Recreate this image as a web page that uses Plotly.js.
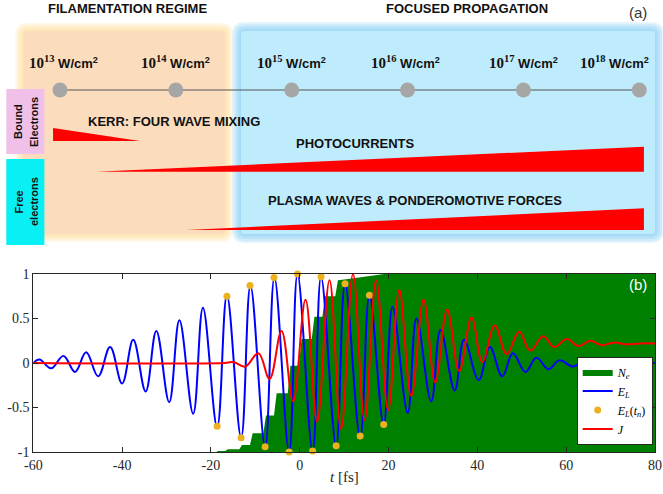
<!DOCTYPE html>
<html>
<head>
<meta charset="utf-8">
<script src="https://cdn.plot.ly/plotly-3.0.1.min.js"></script>
<style>html,body{margin:0;padding:0;background:#fff;}#chart{width:663px;height:494px;}</style>
</head>
<body>
<div id="chart"></div>
<script>
// ---------------- DATA: panel (b) ----------------
// Laser field E_L (extrema)
const tField = [-60, -58.6, -56.0, -53.2, -50.6, -48.1, -45.4, -42.7, -40.0, -37.5, -34.7, -32.3, -29.4, -27.1, -24.0, -21.8,
  -18.6, -16.4, -13.2, -11.1, -7.8, -5.7, -2.4, -0.5, 2.9, 4.8, 8.2, 10.2, 13.6, 15.7, 18.9, 20.9, 24.3, 26.3, 29.6, 31.7,
  34.9, 37.0, 40.3, 42.8, 45.6, 48.0, 50.8, 53.3, 56.0, 58.5, 61.5, 63.9, 66.6, 69.2, 72.0, 75.0, 80];
const field = [0.0, 0.04, -0.06, 0.08, -0.10, 0.12, -0.15, 0.18, -0.23, 0.26, -0.32, 0.36, -0.44, 0.48, -0.57, 0.62,
  -0.72, 0.76, -0.84, 0.87, -0.94, 0.96, -1.0, 1.0, -0.99, 0.97, -0.93, 0.89, -0.83, 0.76, -0.69, 0.63, -0.56, 0.50, -0.43, 0.37,
  -0.31, 0.26, -0.19, 0.18, -0.15, 0.11, -0.10, 0.06, -0.07, 0.03, -0.04, 0.015, -0.02, 0.01, -0.01, 0.0, 0.0];

// Ionization instants t_n and field values E_L(t_n)
const tIon = [-18.6, -16.4, -13.2, -11.2, -7.8, -5.8, -2.4, -0.5, 2.9, 4.8, 8.2, 10.2, 13.6, 15.7, 18.9];
const fieldIon = [-0.71, 0.75, -0.84, 0.87, -0.94, 0.96, -1.0, 1.0, -0.99, 0.97, -0.93, 0.89, -0.82, 0.76, -0.69];

// Current J
const tCurrent = [-60, -17.0, -14.9, -12.3, -9.3, -6.8, -4.1, -1.5, 1.3, 3.9, 6.7, 9.3, 12.0, 14.6, 17.2, 19.9, 22.4, 25.1,
  27.9, 30.5, 33.2, 35.9, 38.7, 41.1, 43.9, 46.6, 49.4, 51.9, 54.8, 57.3, 60.1, 62.8, 65.4, 68.0, 70.7, 73.7, 76.5, 80];
const current = [0, 0, 0.01, -0.04, 0.11, -0.18, 0.36, -0.43, 0.71, -0.66, 0.93, -0.74, 1.0, -0.64, 0.93, -0.53, 0.82, -0.37,
  0.71, -0.22, 0.60, -0.09, 0.51, 0.01, 0.42, 0.10, 0.35, 0.14, 0.30, 0.18, 0.27, 0.19, 0.25, 0.20, 0.23, 0.21, 0.22, 0.22];

// Electron density N_e (staircase, in axis units)
const tDensity = [-18.8, -18.4, -16.8, -16.2, -13.6, -13.0, -11.2, -10.6, -8.2, -7.6, -5.8, -5.2, -2.7, -2.1, -0.2, 0.4,
  2.7, 3.3, 5.1, 5.7, 8.0, 8.6, 10.5, 13.0, 16.0, 19.0, 80];
const density = [-1.0, -0.99, -0.99, -0.97, -0.97, -0.92, -0.92, -0.79, -0.79, -0.59, -0.59, -0.34, -0.34, -0.03, -0.03, 0.27,
  0.27, 0.52, 0.52, 0.75, 0.75, 0.93, 0.94, 0.96, 0.98, 1.0, 1.0];

const xTickVals = [-60, -40, -20, 0, 20, 40, 60, 80];
const xTickText = ['-60', '-40', '-20', '0', '20', '40', '60', '80'];
const yTickVals = [-1, -0.5, 0, 0.5, 1];
const yTickText = ['-1', '-0.5', '0', '0.5', '1'];

// ---------------- DATA: panel (a) ----------------
const intensityExp = [13, 14, 15, 16, 17, 18];           // log10 of intensity in W/cm^2
const effectNames = ['KERR: FOUR WAVE MIXING', 'PHOTOCURRENTS', 'PLASMA WAVES & PONDEROMOTIVE FORCES'];
const effectStart = [12.94, 13.31, 14.09];               // log10 I where effect starts
const effectEnd = [13.69, 18.04, 18.04];                 // log10 I where effect ends
const effectWeightStart = [13, 0, 0];                    // wedge thickness at start
const effectWeightEnd = [0, 25, 21.7];                   // wedge thickness at end
const regimeNames = ['FILAMENTATION REGIME', 'FOCUSED PROPAGATION'];
const electronKinds = [['Bound', 'Electrons'], ['Free', 'electrons']];

// ---------------- LAYOUT HELPERS ----------------
const W = 663, H = 494;
const X = v => v / W;
const Y = v => 1 - v / H;
function rrect(x0, y0, x1, y1, r) {
  const f = (a, b) => X(a).toFixed(5) + ',' + Y(b).toFixed(5);
  return 'M ' + f(x0 + r, y0) + ' L ' + f(x1 - r, y0) + ' Q ' + f(x1, y0) + ' ' + f(x1, y0 + r) +
    ' L ' + f(x1, y1 - r) + ' Q ' + f(x1, y1) + ' ' + f(x1 - r, y1) +
    ' L ' + f(x0 + r, y1) + ' Q ' + f(x0, y1) + ' ' + f(x0, y1 - r) +
    ' L ' + f(x0, y0 + r) + ' Q ' + f(x0, y0) + ' ' + f(x0 + r, y0) + ' Z';
}
function pathShape(p, color) {
  return {type: 'path', xref: 'paper', yref: 'paper', path: p, fillcolor: color, line: {width: 0}, layer: 'below'};
}
function glowBox(b, inner, glow, g) {
  const out = [];
  const steps = [1, 0.78, 0.56, 0.34, 0.14];
  steps.forEach(s => {
    const d = g * s;
    out.push(pathShape(rrect(b[0] - d, b[1] - d, b[2] + d, b[3] + d, 4 + d), glow));
  });
  out.push(pathShape(rrect(b[0], b[1], b[2], b[3], 3), inner));
  return out;
}

const shapes = []
  .concat(glowBox([23.3, 31, 225, 234], 'rgb(251,221,189)', 'rgba(255,222,150,0.22)', 8))
  .concat(glowBox([241, 31, 655, 234], 'rgb(191,236,252)', 'rgba(120,200,245,0.2)', 9))
  .concat([
    {type: 'rect', xref: 'paper', yref: 'paper', x0: X(6.3), x1: X(44.4), y0: Y(154), y1: Y(89), fillcolor: '#F0C0E9', line: {width: 0}, layer: 'below'},
    {type: 'rect', xref: 'paper', yref: 'paper', x0: X(6.3), x1: X(44.4), y0: Y(245), y1: Y(159), fillcolor: '#08F0F4', line: {width: 0}, layer: 'below'}
  ]);

// ---------------- TRACES ----------------
const traces = [];
// panel (a): wedges
const wedgeBase = [141, 171.7, 230];
effectNames.forEach((n, i) => {
  traces.push({
    x: [effectStart[i], effectEnd[i], effectEnd[i], effectStart[i], effectStart[i]],
    y: [wedgeBase[i], wedgeBase[i], wedgeBase[i] - effectWeightEnd[i], wedgeBase[i] - effectWeightStart[i], wedgeBase[i]],
    xaxis: 'x2', yaxis: 'y2', mode: 'lines', fill: 'toself', fillcolor: '#FF0000',
    line: {width: 0, color: '#FF0000'}, showlegend: false, hoverinfo: 'skip', cliponaxis: false
  });
});
// panel (a): intensity scale
traces.push({
  x: intensityExp, y: intensityExp.map(() => 90), xaxis: 'x2', yaxis: 'y2',
  mode: 'lines+markers', line: {color: '#555555', width: 1},
  marker: {size: 15, color: '#A6A6A6'}, showlegend: false, hoverinfo: 'skip', cliponaxis: false
});

// panel (b)
traces.push({x: [-60, 80], y: [-1, -1], mode: 'lines', line: {width: 0, color: 'rgba(0,0,0,0)'}, showlegend: false, hoverinfo: 'skip'});
traces.push({x: tDensity, y: density, mode: 'lines', fill: 'tonexty', fillcolor: '#008000',
  line: {width: 0, color: '#008000'}, name: '<i>N<sub>e</sub></i>'});
traces.push({x: tField, y: field, mode: 'lines', line: {color: '#0000FF', width: 2, shape: 'spline', smoothing: 1.1},
  name: '<i>E<sub>L</sub></i>'});
traces.push({x: tIon, y: fieldIon, mode: 'markers', marker: {color: '#EDB120', size: 7},
  name: '<i>E<sub>L</sub></i>(<i>t<sub>n</sub></i>)', cliponaxis: false});
traces.push({x: tCurrent, y: current, mode: 'lines', line: {color: '#FF0000', width: 2, shape: 'spline', smoothing: 1.1},
  name: '<i>J</i>'});

// ---------------- ANNOTATIONS ----------------
const sans = 'Liberation Sans, Arial, sans-serif';
const serif = 'Liberation Serif, Times New Roman, serif';
const ann = [];
const regimeX = [127, 467];
regimeNames.forEach((n, i) => ann.push({xref: 'paper', yref: 'paper', x: X(regimeX[i]), y: Y(8), text: '<b>' + n + '</b>',
  showarrow: false, font: {family: sans, size: 13, color: '#111'}, xanchor: 'center', yanchor: 'middle'}));
ann.push({xref: 'paper', yref: 'paper', x: X(638), y: Y(12), text: '(a)', showarrow: false,
  font: {family: sans, size: 15, color: '#333'}, xanchor: 'center', yanchor: 'middle'});
const labelShift = [3, 0, 0, -2, 0, -25];
intensityExp.forEach((e, i) => ann.push({xref: 'x2', yref: 'y2', x: e, y: 62, xshift: labelShift[i],
  text: '<b><span style="font-family:Liberation Serif;font-size:15px">10<sup>' + e + '</sup></span> W/cm<sup>2</sup></b>',
  showarrow: false, font: {family: sans, size: 13, color: '#111'}, xanchor: 'center', yanchor: 'middle'}));
const effectLabelPos = [[174, 121], [355.6, 143], [415, 200]];
effectNames.forEach((n, i) => ann.push({xref: 'paper', yref: 'paper', x: X(effectLabelPos[i][0]), y: Y(effectLabelPos[i][1]),
  text: '<b>' + n + '</b>', showarrow: false, font: {family: sans, size: 13, color: '#111'}, xanchor: 'center', yanchor: 'middle'}));
const kindPos = [[[18.5, 121.5], [34, 122]], [[18.5, 202], [34, 202]]];
electronKinds.forEach((k, i) => k.forEach((w, j) => ann.push({xref: 'paper', yref: 'paper',
  x: X(kindPos[i][j][0]), y: Y(kindPos[i][j][1]), text: '<b>' + w + '</b>', textangle: -90, showarrow: false,
  font: {family: sans, size: 11, color: '#111'}, xanchor: 'center', yanchor: 'middle'})));
ann.push({xref: 'paper', yref: 'paper', x: X(638), y: Y(284), text: '(b)', showarrow: false,
  font: {family: sans, size: 15, color: '#FFFFFF'}, xanchor: 'center', yanchor: 'middle'});
// x-axis title
ann.push({xref: 'paper', yref: 'paper', x: X(344), y: Y(477), text: '<i>t</i> [fs]', showarrow: false,
  font: {family: serif, size: 15, color: '#262626'}, xanchor: 'center', yanchor: 'middle'});

const axisCommon = {
  showline: true, linecolor: '#262626', linewidth: 1, mirror: 'allticks', ticks: 'inside', ticklen: 5,
  tickcolor: '#262626', tickwidth: 1, showgrid: false, zeroline: false,
  tickfont: {family: serif, size: 14, color: '#262626'}, fixedrange: true
};

const layout = {
  width: W, height: H, margin: {l: 0, r: 0, t: 0, b: 0}, paper_bgcolor: '#FFFFFF', plot_bgcolor: 'rgba(0,0,0,0)',
  showlegend: true,
  xaxis: Object.assign({}, axisCommon, {domain: [33.3 / W, 655 / W], anchor: 'y', range: [-60, 80],
    tickmode: 'array', tickvals: xTickVals, ticktext: xTickText}),
  yaxis: Object.assign({}, axisCommon, {domain: [1 - 452 / H, 1 - 274 / H], anchor: 'x', range: [-1, 1],
    tickmode: 'array', tickvals: yTickVals, ticktext: yTickText}),
  xaxis2: {domain: [0, 1], anchor: 'y2', range: [12.4821, 12.4821 + W / 115.86], visible: false, fixedrange: true},
  yaxis2: {domain: [1 - 245 / H, 1], anchor: 'x2', range: [245, 0], visible: false, fixedrange: true},
  legend: {x: 576.7 / W, y: 1 - 444.5 / H, xanchor: 'left', yanchor: 'bottom', bgcolor: '#FFFFFF', traceorder: 'normal',
    bordercolor: '#262626', borderwidth: 1, font: {family: serif, size: 12, color: '#000'}, itemwidth: 30, tracegroupgap: 0},
  shapes: shapes,
  annotations: ann
};

Plotly.newPlot('chart', traces, layout, {staticPlot: true, displayModeBar: false});
</script>
</body>
</html>
